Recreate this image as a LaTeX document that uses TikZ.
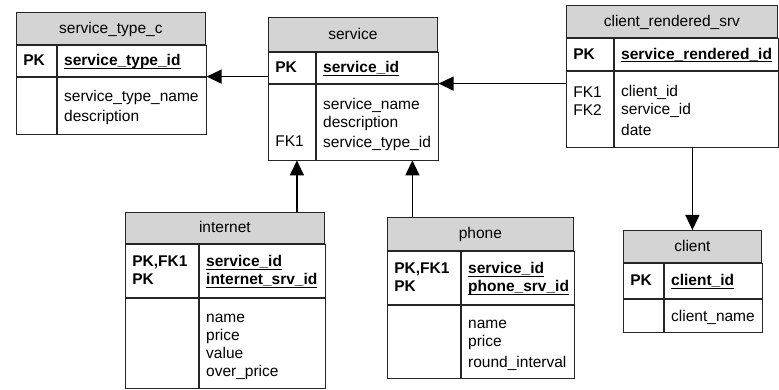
\documentclass[tikz,border=0pt]{standalone}
\usepackage{fontspec}
\setmainfont{Liberation Sans}
\usetikzlibrary{positioning, arrows.meta}

\definecolor{headgray}{RGB}{212,212,212}

\newcommand{\keystrut}{\rule[-4pt]{0pt}{18pt}}
\newcommand{\attrstrut}{\rule[-2pt]{0pt}{18pt}}
\newsavebox{\pkbox}
\newcommand{\pkname}[1]{\leavevmode\sbox{\pkbox}{\textbf{#1}}\rlap{\usebox{\pkbox}}\rule[-3pt]{\wd\pkbox}{0.9pt}}

\tikzstyle{tablehead} = [
    rectangle,
    anchor=north west,
    inner sep=0pt,
    fill=headgray,
    draw=black!85,
    line width=0.8pt,
    execute at begin node=\keystrut
]
\tikzstyle{keyrow} = [
    rectangle,
    align=left,
    inner xsep=7pt,
    inner ysep=0pt,
    draw=black!85,
    line width=0.8pt,
    execute at begin node=\keystrut,
    execute at end node=\keystrut
]
\tikzstyle{attrrow} = [
    rectangle,
    align=left,
    inner xsep=7pt,
    inner ysep=0pt,
    draw=black!85,
    line width=0.8pt,
    execute at begin node=\attrstrut,
    execute at end node=\attrstrut
]
\tikzstyle{fkarrow} = [line width=1.3pt,->,>={Triangle[length=15pt,width=14pt]}]

\begin{document}
\begin{tikzpicture}[x=1pt, y=-1pt, font=\fontsize{15.5pt}{18pt}\selectfont]

\useasboundingbox (0,0) rectangle (779,390);

% service_type_c
\node (stc) [tablehead, minimum width=189pt, minimum height=32pt] at (16,12)
{service\_type\_c};
\node (stcpkk) [keyrow, text width=26pt, minimum height=31pt, below right=0pt and 0pt of stc.south west]
{\textbf{PK}};
\node (stcpk) [keyrow, text width=135pt, minimum height=31pt, right=0pt of stcpkk]
{\pkname{service\_type\_id}};
\node (stcatk) [attrrow, text width=26pt, minimum height=57pt, below=0pt of stcpkk] {};
\node (stcat) [attrrow, text width=135pt, minimum height=57pt, right=0pt of stcatk]
{service\_type\_name\\description};

% service
\node (svc) [tablehead, minimum width=169pt, minimum height=34pt] at (268,17)
{service};
\node (svcpkk) [keyrow, text width=33pt, minimum height=31pt, below right=0pt and 0pt of svc.south west]
{\textbf{PK}};
\node (svcpk) [keyrow, text width=108pt, minimum height=31pt, right=0pt of svcpkk]
{\pkname{service\_id}};
\node (svcatk) [attrrow, text width=33pt, minimum height=76pt, below=0pt of svcpkk]
{~\\~\\FK1};
\node (svcat) [attrrow, text width=108pt, minimum height=76pt, right=0pt of svcatk]
{service\_name\\description\\service\_type\_id};

% client_rendered_srv
\node (crs) [tablehead, minimum width=211pt, minimum height=32pt] at (566,5)
{client\_rendered\_srv};
\node (crspkk) [keyrow, text width=33pt, minimum height=32pt, below right=0pt and 0pt of crs.south west]
{\textbf{PK}};
\node (crspk) [keyrow, text width=150pt, minimum height=32pt, right=0pt of crspkk]
{\pkname{service\_rendered\_id}};
\node (crsatk) [attrrow, text width=33pt, minimum height=76pt, below=0pt of crspkk]
{FK1\\FK2\\~};
\node (crsat) [attrrow, text width=150pt, minimum height=76pt, right=0pt of crsatk]
{client\_id\\service\_id\\date};

% internet
\node (inet) [tablehead, minimum width=199pt, minimum height=31pt] at (125,212)
{internet};
\node (inetpkk) [keyrow, text width=59pt, minimum height=53pt, below right=0pt and 0pt of inet.south west]
{\textbf{PK,FK1}\\\textbf{PK}};
\node (inetpk) [keyrow, text width=112pt, minimum height=53pt, right=0pt of inetpkk]
{\pkname{service\_id}\\\pkname{internet\_srv\_id}};
\node (inetatk) [attrrow, text width=59pt, minimum height=90pt, below=0pt of inetpkk] {};
\node (inetat) [attrrow, text width=112pt, minimum height=90pt, right=0pt of inetatk]
{name\\price\\value\\over\_price};

% phone
\node (phone) [tablehead, minimum width=186pt, minimum height=33pt] at (387,217)
{phone};
\node (phonepkk) [keyrow, text width=59pt, minimum height=53pt, below right=0pt and 0pt of phone.south west]
{\textbf{PK,FK1}\\\textbf{PK}};
\node (phonepk) [keyrow, text width=99pt, minimum height=53pt, right=0pt of phonepkk]
{\pkname{service\_id}\\\pkname{phone\_srv\_id}};
\node (phoneatk) [attrrow, text width=59pt, minimum height=73pt, below=0pt of phonepkk] {};
\node (phoneat) [attrrow, text width=99pt, minimum height=73pt, right=0pt of phoneatk]
{name\\price\\round\_interval};

% client
\node (client) [tablehead, minimum width=138pt, minimum height=32pt] at (623,230)
{client};
\node (clientpkk) [keyrow, text width=26pt, minimum height=35pt, below right=0pt and 0pt of client.south west]
{\textbf{PK}};
\node (clientpk) [keyrow, text width=84pt, minimum height=35pt, right=0pt of clientpkk]
{\pkname{client\_id}};
\node (clientatk) [attrrow, text width=26pt, minimum height=33pt, below=0pt of clientpkk] {};
\node (clientat) [attrrow, text width=84pt, minimum height=33pt, right=0pt of clientatk]
{client\_name};

\coordinate (inettap) at ([xshift=72pt]inet.north);
\coordinate (phonetap) at ([xshift=-68pt]phone.north);

\draw [fkarrow] (svc.west |- stcpk.south east) -- (stcpk.south east);
\draw [fkarrow] (crs.west |- svcpk.south east) -- (svcpk.south east);
\draw [fkarrow] (inettap) -- (inettap |- svcat.south);
\draw [fkarrow] (phonetap) -- (phonetap |- svcat.south);
\draw [fkarrow] (crsat.south -| client.north) -- (client.north);

\end{tikzpicture}
\end{document}
